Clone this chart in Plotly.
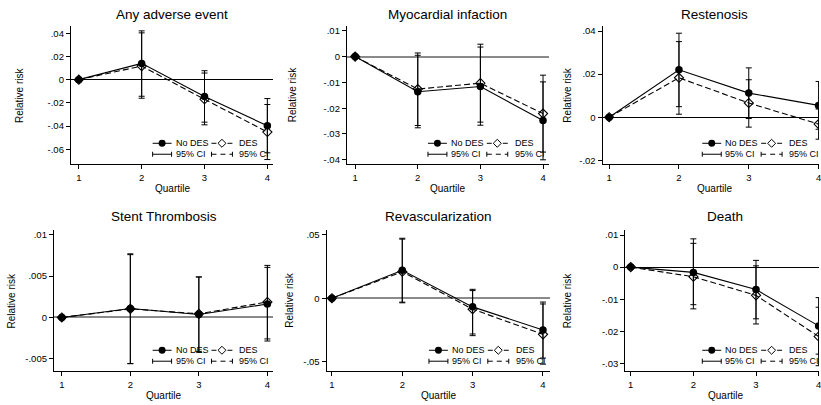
import numpy as np
import plotly.graph_objects as go

W, H = 821, 405

# ---------------- data ----------------
quartiles = [1, 2, 3, 4]
quartile_labels = ["1", "2", "3", "4"]

panel_titles = ["Any adverse event", "Myocardial infaction", "Restenosis",
                "Stent Thrombosis", "Revascularization", "Death"]
series_names = ["No DES", "DES"]
ci_label = "95% CI"
x_title = "Quartile"
y_title = "Relative risk"

# Any adverse event
ae_nodes_est = [0, 0.0140, -0.0146, -0.0397]
ae_nodes_lo = [None, -0.0143, -0.0366, -0.0630]
ae_nodes_hi = [None, 0.0420, 0.0077, -0.0163]
ae_des_est = [0, 0.0117, -0.0169, -0.0451]
ae_des_lo = [None, -0.0160, -0.0389, -0.0688]
ae_des_hi = [None, 0.0403, 0.0057, -0.0214]

# Myocardial infarction
mi_nodes_est = [0, -0.0136, -0.0116, -0.0248]
mi_nodes_lo = [None, -0.0276, -0.0266, -0.0400]
mi_nodes_hi = [None, 0.0005, 0.0037, -0.0098]
mi_des_est = [0, -0.0126, -0.0103, -0.0221]
mi_des_lo = [None, -0.0267, -0.0254, -0.0370]
mi_des_hi = [None, 0.0014, 0.0048, -0.0072]

# Restenosis
rs_nodes_est = [0, 0.0220, 0.0112, 0.0055]
rs_nodes_lo = [None, 0.0049, -0.0006, -0.0056]
rs_nodes_hi = [None, 0.0390, 0.0229, 0.0166]
rs_des_est = [0, 0.0183, 0.0066, -0.0032]
rs_des_lo = [None, 0.0014, -0.0046, -0.0102]
rs_des_hi = [None, 0.0351, 0.0174, 0.0038]

# Stent thrombosis
st_nodes_est = [0, 0.00108, 0.00036, 0.00162]
st_nodes_lo = [None, -0.00557, -0.0042, -0.00285]
st_nodes_hi = [None, 0.0077, 0.0049, 0.00606]
st_des_est = [0, 0.00104, 0.00044, 0.00187]
st_des_lo = [None, -0.0056, -0.0041, -0.0026]
st_des_hi = [None, 0.0076, 0.0049, 0.0063]

# Revascularization
rv_nodes_est = [0, 0.0219, -0.0068, -0.0250]
rv_nodes_lo = [None, -0.0031, -0.0281, -0.0470]
rv_nodes_hi = [None, 0.0471, 0.0070, -0.0030]
rv_des_est = [0, 0.0208, -0.0086, -0.0284]
rv_des_lo = [None, -0.0036, -0.0294, -0.0518]
rv_des_hi = [None, 0.0464, 0.0060, -0.0045]

# Death
de_nodes_est = [0, -0.00165, -0.0070, -0.0183]
de_nodes_lo = [None, -0.0117, -0.0161, -0.0271]
de_nodes_hi = [None, 0.0088, 0.0021, -0.0095]
de_des_est = [0, -0.0030, -0.0088, -0.0216]
de_des_lo = [None, -0.0130, -0.0177, -0.0307]
de_des_hi = [None, 0.0074, 0.0004, -0.0125]

# y tick labels
ae_ytick_vals = [0.04, 0.02, 0, -0.02, -0.04, -0.06]
ae_ytick_text = [".04", ".02", "0", "-.02", "-.04", "-.06"]
mi_ytick_vals = [0.01, 0, -0.01, -0.02, -0.03, -0.04]
mi_ytick_text = [".01", "0", "-.01", "-.02", "-.03", "-.04"]
rs_ytick_vals = [0.04, 0.02, 0, -0.02]
rs_ytick_text = [".04", ".02", "0", "-.02"]
st_ytick_vals = [0.01, 0.005, 0, -0.005]
st_ytick_text = [".01", ".005", "0", "-.005"]
rv_ytick_vals = [0.05, 0, -0.05]
rv_ytick_text = [".05", "0", "-.05"]
de_ytick_vals = [0.01, 0, -0.01, -0.02, -0.03]
de_ytick_text = [".01", "0", "-.01", "-.02", "-.03"]

panel_data = [
    (ae_nodes_est, ae_nodes_lo, ae_nodes_hi, ae_des_est, ae_des_lo, ae_des_hi, ae_ytick_vals, ae_ytick_text),
    (mi_nodes_est, mi_nodes_lo, mi_nodes_hi, mi_des_est, mi_des_lo, mi_des_hi, mi_ytick_vals, mi_ytick_text),
    (rs_nodes_est, rs_nodes_lo, rs_nodes_hi, rs_des_est, rs_des_lo, rs_des_hi, rs_ytick_vals, rs_ytick_text),
    (st_nodes_est, st_nodes_lo, st_nodes_hi, st_des_est, st_des_lo, st_des_hi, st_ytick_vals, st_ytick_text),
    (rv_nodes_est, rv_nodes_lo, rv_nodes_hi, rv_des_est, rv_des_lo, rv_des_hi, rv_ytick_vals, rv_ytick_text),
    (de_nodes_est, de_nodes_lo, de_nodes_hi, de_des_est, de_des_lo, de_des_hi, de_ytick_vals, de_ytick_text),
]

# ---------------- layout geometry (pixels) ----------------
GRAY = "#8a8a8a"
geom = [
    dict(l=71, r=274, t=25, b=164, R=274, L=274, xr=[0.873, 4.095], yr=[-0.0728, 0.0463], ytx=19, ty=14, zc="#000000", zw=1),
    dict(l=347.7, r=550, t=25, b=164, R=550, L=550, xr=[0.868, 4.09], yr=[-0.0417, 0.0119], ytx=293, ty=14, zc=GRAY, zw=2),
    dict(l=604, r=821, t=25, b=164, R=829, L=825, xr=[0.905, 4.006], yr=[-0.0218, 0.0424], ytx=568, ty=14, zc="#000000", zw=1),
    dict(l=54, r=274, t=230, b=372, R=274, L=274, xr=[0.884, 4.087], yr=[-0.0065, 0.0106], ytx=12, ty=217, zc=GRAY, zw=2),
    dict(l=327.3, r=551, t=230, b=372, R=551, L=551, xr=[0.923, 4.095], yr=[-0.0573, 0.0537], ytx=290, ty=217, zc=GRAY, zw=2),
    dict(l=626.7, r=821, t=230, b=372, R=827, L=825, xr=[0.911, 4.006], yr=[-0.0324, 0.0116], ytx=569, ty=217, zc="#000000", zw=1),
]

FONT = "Liberation Sans, Arial, Helvetica, sans-serif"


def fx(p):
    return p / W


def fy(p):
    return 1 - p / H


def arr(v):
    return np.array([np.nan if a is None else a for a in v], dtype=float)


fig = go.Figure()
layout = dict(
    width=W, height=H, margin=dict(l=0, r=0, t=0, b=0, pad=0),
    paper_bgcolor="white", plot_bgcolor="white", showlegend=False,
    font=dict(family=FONT, color="#000000"),
)
shapes = []
annotations = []

for i, (d, g) in enumerate(zip(panel_data, geom), start=1):
    n_est, n_lo, n_hi, d_est, d_lo, d_hi, ytv, ytt = d
    sfx = "" if i == 1 else str(i)
    xa, ya = "x" + sfx, "y" + sfx

    for est, lo, hi, name, dash, marker in [
        (d_est, d_lo, d_hi, series_names[1], "6px,3px",
         dict(symbol="diamond-open", size=7, color="#000000", line=dict(color="#000000", width=1.1))),
        (n_est, n_lo, n_hi, series_names[0], "solid",
         dict(symbol="circle", size=7.5, color="#000000", line=dict(width=0))),
    ]:
        e, l, h = arr(est), arr(lo), arr(hi)
        fig.add_trace(go.Scatter(
            x=quartiles, y=e, xaxis=xa, yaxis=ya, name=name, mode="lines+markers",
            line=dict(color="#000000", width=1.1, dash=dash),
            marker=marker,
            error_y=dict(type="data", symmetric=False, array=h - e, arrayminus=e - l,
                         color="#000000", thickness=1, width=3),
            hoverinfo="skip",
        ))

    axis_common = dict(showline=True, linecolor="#000000", linewidth=1, ticks="outside",
                       ticklen=4, tickwidth=1, tickcolor="#000000", showgrid=False,
                       tickfont=dict(size=9.5, family=FONT, color="#000000"), fixedrange=True,
                       ticklabeloverflow="allow")
    layout["xaxis" + sfx] = dict(axis_common, domain=[fx(g["l"]), fx(g["r"])], range=g["xr"],
                                 anchor=ya, tickmode="array", tickvals=quartiles,
                                 ticktext=quartile_labels, zeroline=False)
    layout["yaxis" + sfx] = dict(axis_common, domain=[fy(g["b"]), fy(g["t"])], range=g["yr"],
                                 anchor=xa, tickmode="array", tickvals=ytv, ticktext=ytt,
                                 zeroline=True, zerolinecolor=g["zc"], zerolinewidth=g["zw"])

    cx = (g["l"] + g["R"]) / 2
    # panel title
    annotations.append(dict(text=panel_titles[i - 1], x=fx(cx), y=fy(g["ty"]), xref="paper", yref="paper",
                            xanchor="center", yanchor="middle", showarrow=False,
                            font=dict(size=13.5, family=FONT, color="#000000")))
    # axis titles
    annotations.append(dict(text=x_title, x=fx(cx), y=fy(g["b"] + 24), xref="paper", yref="paper",
                            xanchor="center", yanchor="middle", showarrow=False,
                            font=dict(size=10, family=FONT, color="#000000")))
    annotations.append(dict(text=y_title, x=fx(g["ytx"]), y=fy((g["t"] + g["b"]) / 2), xref="paper",
                            yref="paper", xanchor="center", yanchor="middle", showarrow=False,
                            textangle=-90, font=dict(size=10, family=FONT, color="#000000")))

    # legend (drawn in pixel offsets from plot region's bottom-right corner)
    R, B = g["L"], g["b"]
    y1, y2 = B - 21, B - 10
    blk = dict(color="#000000", width=1)
    # row 1: No DES
    shapes.append(dict(type="line", xref="paper", yref="paper", x0=fx(R - 121), x1=fx(R - 102),
                       y0=fy(y1), y1=fy(y1), line=blk))
    shapes.append(dict(type="circle", xref="paper", yref="paper", x0=fx(R - 115), x1=fx(R - 108),
                       y0=fy(y1 + 3.5), y1=fy(y1 - 3.5), fillcolor="#000000", line=dict(width=0)))
    annotations.append(dict(text=series_names[0], x=fx(R - 100), y=fy(y1), xref="paper", yref="paper",
                            xanchor="left", yanchor="middle", showarrow=False,
                            font=dict(size=9, family=FONT, color="#000000")))
    # row 1: DES
    shapes.append(dict(type="line", xref="paper", yref="paper", x0=fx(R - 62), x1=fx(R - 41),
                       y0=fy(y1), y1=fy(y1), line=dict(color="#000000", width=1, dash="5px,3px")))
    dcx = R - 51.5
    shapes.append(dict(type="path", xref="paper", yref="paper",
                       path=(f"M {fx(dcx - 4)},{fy(y1)} L {fx(dcx)},{fy(y1 - 4)} "
                             f"L {fx(dcx + 4)},{fy(y1)} L {fx(dcx)},{fy(y1 + 4)} Z"),
                       fillcolor="white", line=blk))
    annotations.append(dict(text=series_names[1], x=fx(R - 36), y=fy(y1), xref="paper", yref="paper",
                            xanchor="left", yanchor="middle", showarrow=False,
                            font=dict(size=9, family=FONT, color="#000000")))
    # row 2: CIs
    for xa0, xa1, dsh, tx in [(R - 121, R - 102, "solid", R - 100), (R - 62, R - 41, "5px,4px", R - 36)]:
        shapes.append(dict(type="line", xref="paper", yref="paper", x0=fx(xa0), x1=fx(xa1),
                           y0=fy(y2), y1=fy(y2), line=dict(color="#000000", width=1, dash=dsh)))
        for cxp in (xa0, xa1):
            shapes.append(dict(type="line", xref="paper", yref="paper", x0=fx(cxp), x1=fx(cxp),
                               y0=fy(y2 - 2.5), y1=fy(y2 + 2.5), line=blk))
        annotations.append(dict(text=ci_label, x=fx(tx), y=fy(y2), xref="paper", yref="paper",
                                xanchor="left", yanchor="middle", showarrow=False,
                                font=dict(size=9, family=FONT, color="#000000")))

layout["shapes"] = shapes
layout["annotations"] = annotations
fig.update_layout(**layout)

fig.write_html("out.html", include_plotlyjs=True,
               config={"displayModeBar": False, "staticPlot": True},
               post_script="document.body.style.margin='0';document.body.style.overflow='hidden';")
